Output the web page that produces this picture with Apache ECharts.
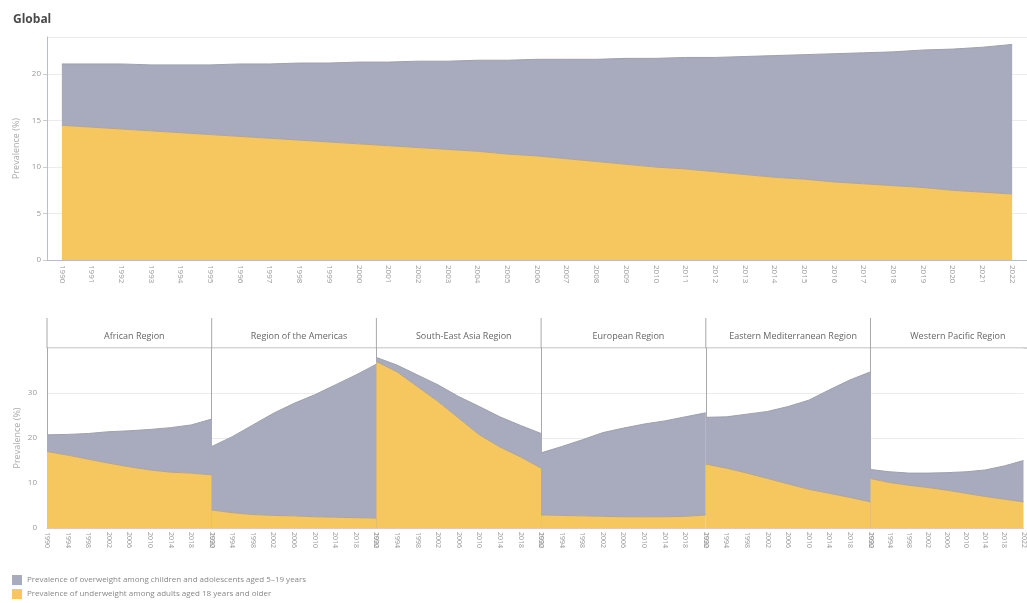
<!DOCTYPE html>
<html>
<head>
<meta charset="utf-8">
<script src="https://cdn.jsdelivr.net/npm/echarts@6/dist/echarts.min.js"></script>
<style>
  html, body { margin: 0; padding: 0; background: #fff; }
  #chart { width: 1027px; height: 603px; }
</style>
</head>
<body>
<div id="chart"></div>
<script>
// tick labels
const years = ['1990','1991','1992','1993','1994','1995','1996','1997','1998','1999','2000',
  '2001','2002','2003','2004','2005','2006','2007','2008','2009','2010','2011',
  '2012','2013','2014','2015','2016','2017','2018','2019','2020','2021','2022'];
const panelYears = ['1990','1994','1998','2002','2006','2010','2014','2018','2022'];

const overweightName = 'Prevalence of overweight among children and adolescents aged 5\u201319 years';
const underweightName = 'Prevalence of underweight among adults aged 18 years and older';

// global, one value per year
const globalUnder = [14.5,14.3,14.1,13.9,13.7,13.5,13.3,13.1,12.9,12.7,12.5,
  12.3,12.1,11.9,11.7,11.4,11.2,10.9,10.6,10.3,10.0,9.8,
  9.5,9.2,8.9,8.7,8.4,8.2,8.0,7.8,7.5,7.3,7.1];
const globalOver = [6.6,6.8,7.0,7.1,7.3,7.5,7.8,8.0,8.3,8.5,8.8,
  9.0,9.3,9.5,9.8,10.1,10.4,10.7,11.0,11.4,11.7,12.0,
  12.3,12.7,13.1,13.4,13.8,14.1,14.4,14.8,15.2,15.6,16.1];

// regions, one value per 4 years
const regionNames = ['African Region','Region of the Americas','South-East Asia Region',
  'European Region','Eastern Mediterranean Region','Western Pacific Region'];
const africaUnder = [17.0,16.2,15.3,14.4,13.6,12.9,12.4,12.2,11.8];
const africaOver = [3.7,4.6,5.7,7.0,8.0,9.0,9.9,10.7,12.4];
const americasUnder = [4.0,3.4,3.0,2.8,2.7,2.5,2.4,2.3,2.2];
const americasOver = [14.1,16.9,19.9,22.7,25.0,27.1,29.4,31.7,34.2];
const seAsiaUnder = [37.0,34.7,31.4,28.1,24.4,20.7,18.0,15.8,13.3];
const seAsiaOver = [0.9,1.5,2.6,3.7,4.8,6.3,6.7,7.0,7.7];
const europeUnder = [2.9,2.8,2.7,2.6,2.5,2.5,2.5,2.6,2.9];
const europeOver = [13.8,15.3,16.9,18.6,19.7,20.6,21.3,22.1,22.7];
const eastMedUnder = [14.2,13.3,12.2,11.0,9.8,8.6,7.7,6.8,5.8];
const eastMedOver = [10.4,11.4,13.1,14.9,17.2,19.8,23.0,26.1,28.9];
const westPacUnder = [11.0,10.1,9.5,9.0,8.4,7.7,7.0,6.4,5.8];
const westPacOver = [2.0,2.4,2.7,3.2,3.9,4.8,5.9,7.4,9.2];

const regionUnder = [africaUnder, americasUnder, seAsiaUnder, europeUnder, eastMedUnder, westPacUnder];
const regionOver = [africaOver, americasOver, seAsiaOver, europeOver, eastMedOver, westPacOver];

const grayColor = '#a8abbd';
const yellowColor = '#f6c75f';
const fontFamily = '"Open Sans", "DejaVu Sans", sans-serif';

const panelLeft = 47;
const panelWidth = 164.7;
const panelTop = 348;
const panelHeight = 180;

function areaSeries(name, data, color, lineColor, stack, axisIndex) {
  return {
    name: name,
    type: 'line',
    stack: stack,
    xAxisIndex: axisIndex,
    yAxisIndex: axisIndex,
    data: data,
    symbol: 'none',
    silent: true,
    itemStyle: { color: color },
    lineStyle: { color: lineColor, width: 1 },
    areaStyle: { color: color, opacity: 1 }
  };
}

const grids = [{ left: 47, top: 37, width: 990, height: 223 }];
const xAxes = [{
  type: 'category',
  gridIndex: 0,
  data: years,
  boundaryGap: true,
  axisLine: { lineStyle: { color: '#b9bccb' } },
  axisTick: { show: false },
  axisLabel: { rotate: -90, interval: 0, fontSize: 8, color: '#999', fontFamily: fontFamily, margin: 5 }
}];
const yAxes = [{
  type: 'value',
  gridIndex: 0,
  min: 0,
  max: 24,
  interval: 5,
  name: 'Prevalence (%)',
  nameLocation: 'middle',
  nameGap: 25,
  nameTextStyle: { fontSize: 9, color: '#aaa', fontFamily: fontFamily },
  axisLine: { show: true, lineStyle: { color: '#b9bccb' } },
  axisTick: { show: true, length: 4, lineStyle: { color: '#ccc' } },
  axisLabel: { fontSize: 8, color: '#999', fontFamily: fontFamily, showMaxLabel: false, margin: 6 },
  splitLine: { lineStyle: { color: '#ececec' } }
}];
const series = [
  areaSeries(underweightName, globalUnder, yellowColor, '#c2a466', 'global', 0),
  areaSeries(overweightName, globalOver, grayColor, '#9da0b3', 'global', 0)
];
const titles = [{
  text: 'Global',
  left: 8,
  top: 9,
  textStyle: { fontSize: 12, fontWeight: 'bold', color: '#4a4a4a', fontFamily: fontFamily }
}];
const graphics = [{
  type: 'line',
  silent: true,
  shape: { x1: panelLeft, y1: panelTop, x2: 1027, y2: panelTop },
  style: { stroke: '#a9a9a9', lineWidth: 1 }
}];

regionNames.forEach(function (region, i) {
  const idx = i + 1;
  const left = panelLeft + i * panelWidth;
  grids.push({ left: left, top: panelTop, width: panelWidth, height: panelHeight });
  xAxes.push({
    type: 'category',
    gridIndex: idx,
    data: panelYears,
    boundaryGap: false,
    axisLine: { lineStyle: { color: '#dcc8c8' } },
    axisTick: { show: false },
    axisLabel: { rotate: -90, interval: 0, fontSize: 7, color: '#999', fontFamily: fontFamily, margin: 4 }
  });
  yAxes.push({
    type: 'value',
    gridIndex: idx,
    min: 0,
    max: 40,
    interval: 10,
    name: i === 0 ? 'Prevalence (%)' : '',
    nameLocation: 'middle',
    nameGap: 25,
    nameTextStyle: { fontSize: 9, color: '#aaa', fontFamily: fontFamily },
    axisLine: { show: true, lineStyle: { color: '#a9a9a9' } },
    axisTick: { show: false },
    axisLabel: { show: i === 0, fontSize: 8, color: '#999', fontFamily: fontFamily, showMaxLabel: false, margin: 10 },
    splitLine: { lineStyle: { color: '#ececec' } }
  });
  series.push(areaSeries(underweightName, regionUnder[i], yellowColor, '#c2a466', 'r' + idx, idx));
  series.push(areaSeries(overweightName, regionOver[i], grayColor, '#9da0b3', 'r' + idx, idx));
  titles.push({
    text: region,
    left: left + panelWidth / 2,
    top: 327,
    textAlign: 'center',
    textStyle: { fontSize: 9, fontWeight: 'normal', color: '#666', fontFamily: fontFamily }
  });
  graphics.push({
    type: 'line',
    silent: true,
    shape: { x1: left, y1: 318, x2: left, y2: panelTop },
    style: { stroke: '#a9a9a9', lineWidth: 1 }
  });
});

const chart = echarts.init(document.getElementById('chart'));
chart.setOption({
  animation: false,
  title: titles,
  grid: grids,
  xAxis: xAxes,
  yAxis: yAxes,
  series: series,
  graphic: graphics,
  legend: {
    data: [overweightName, underweightName],
    orient: 'vertical',
    left: 12,
    top: 575,
    bottom: 0,
    padding: 0,
    itemWidth: 10,
    itemHeight: 10,
    itemGap: 4,
    icon: 'rect',
    selectedMode: false,
    textStyle: { fontSize: 8, lineHeight: 10, color: '#888', fontFamily: fontFamily }
  }
});
</script>
</body>
</html>
